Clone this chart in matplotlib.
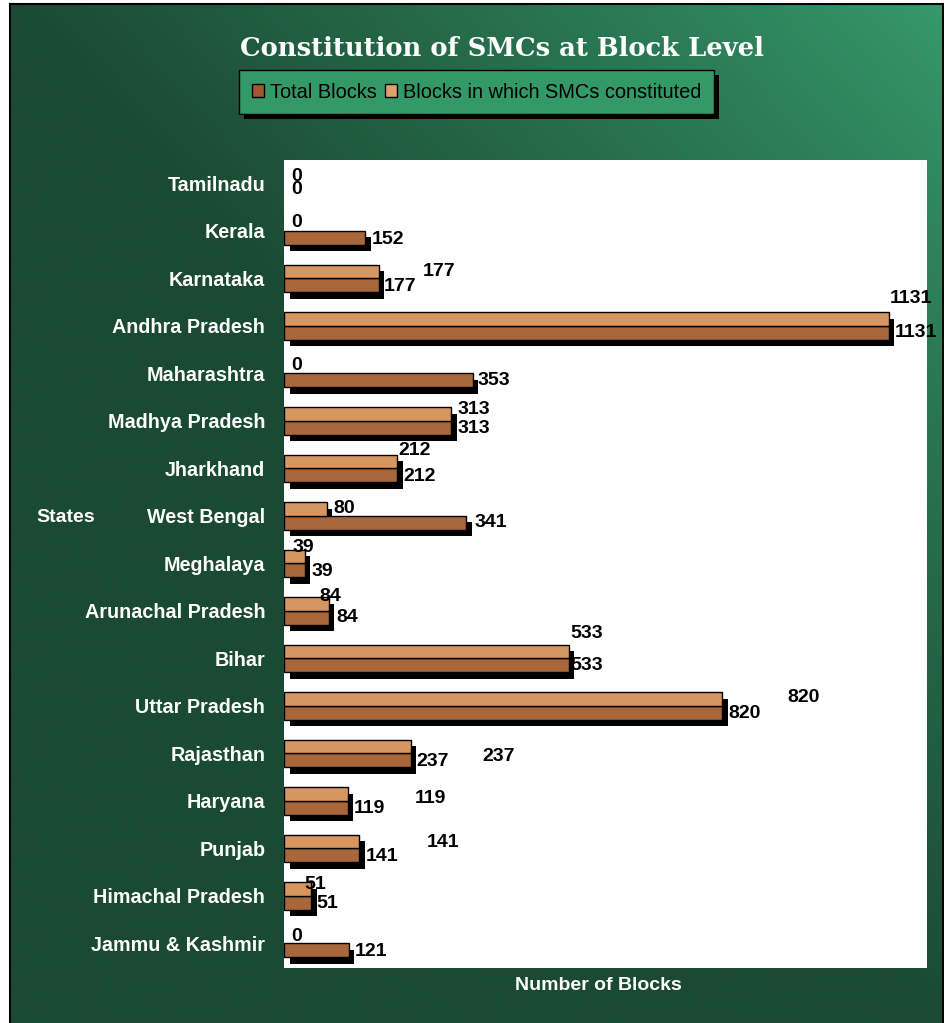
import numpy as np
import matplotlib
matplotlib.use("Agg")
import matplotlib.pyplot as plt
from matplotlib.transforms import ScaledTranslation
from matplotlib.patches import Patch, Rectangle
from matplotlib.colors import to_rgb

# ---------------- data ----------------
states = ["Tamilnadu", "Kerala", "Karnataka", "Andhra Pradesh", "Maharashtra",
          "Madhya Pradesh", "Jharkhand", "West Bengal", "Meghalaya",
          "Arunachal Pradesh", "Bihar", "Uttar Pradesh", "Rajasthan", "Haryana",
          "Punjab", "Himachal Pradesh", "Jammu & Kashmir"]
total_blocks = [0, 152, 177, 1131, 353, 313, 212, 341, 39, 84, 533, 820, 237, 119, 141, 51, 121]
smc_blocks = [0, 0, 177, 1131, 0, 313, 212, 80, 39, 84, 533, 820, 237, 119, 141, 51, 0]
series_names = ["Total Blocks", "Blocks in which SMCs constituted"]

# label placement offsets (pixels, right / down) as seen in the original
smc_label_dx = [7, 7, 44, 1, 7, 6.5, 1, 7, -12, -10, 1, 65, 72, 67, 67, -7, 7]
smc_label_dy = [0, -1.5, 0, -20, -1, -4.5, -11, 0, -9, -7.5, -18, -1.5, 10, 4.5, 1, -4.5, 0]
total_label_dx = [7, 7, 5, 6, 5, 6.5, 6, 8, 7, 7, 1, 6, 6, 6, 6, 5, 6]
total_label_dy = [-1, 1.5, 1, 0, 0, 1, 1, 0, 1, 0, 0, 1, 1, 1, 1, 1, 1]

# ---------------- style ----------------
plt.rcParams["font.family"] = ["Liberation Sans", "DejaVu Sans"]
W, H = 944, 1023
dark = np.array(to_rgb("#1b4a33"))
light = np.array(to_rgb("#36996b"))
smc_color = "#d6965f"
total_color = "#a8673b"

fig = plt.figure(figsize=(W / 100, H / 100), dpi=100, facecolor="white")

# gradient background
bg = fig.add_axes([10 / W, 0, 933 / W, 1019 / H])
xs = np.linspace(0, 1, 400)
ys = np.linspace(0, 1, 400)
X, Y = np.meshgrid(xs, ys)  # Y=0 at top
u = ((1 - X) + Y) / 2
t = np.clip(u / 0.5, 0, 1) ** 0.9
img = light[None, None, :] * (1 - t[..., None]) + dark[None, None, :] * t[..., None]
bg.imshow(img, aspect="auto", extent=[0, 1, 0, 1], origin="upper")
bg.set_xlim(0, 1)
bg.set_ylim(0, 1)
bg.set_xticks([])
bg.set_yticks([])
for s in ["left", "top", "right"]:
    bg.spines[s].set_color("black")
    bg.spines[s].set_linewidth(1.5)
bg.spines["bottom"].set_visible(False)
bg.set_zorder(-5)

# main plot
ax = fig.add_axes([284 / W, 1 - 968 / H, 643 / W, 808 / H])
ax.set_facecolor("white")
for s in ax.spines.values():
    s.set_visible(False)

n = len(states)
y = np.arange(n)
h = 0.29
shadow_tr = ax.transData + ScaledTranslation(0.055, -0.065, fig.dpi_scale_trans)

lw_smc = [1.0 if v > 0 else 0 for v in smc_blocks]
lw_tot = [1.0 if v > 0 else 0 for v in total_blocks]

ax.barh(y + h / 2, total_blocks, h, color="black", linewidth=0, transform=shadow_tr, zorder=1)
ax.barh(y - h / 2, smc_blocks, h, color="black", linewidth=0, transform=shadow_tr, zorder=1)
ax.barh(y + h / 2, total_blocks, h, color=total_color, edgecolor="black", linewidth=lw_tot, zorder=2)
ax.barh(y - h / 2, smc_blocks, h, color=smc_color, edgecolor="black", linewidth=lw_smc, zorder=3)

for i in range(n):
    ax.annotate(str(smc_blocks[i]), xy=(smc_blocks[i], y[i] - h / 2),
                xytext=(smc_label_dx[i], -smc_label_dy[i]), textcoords="offset pixels",
                ha="left", va="center", fontsize=14, fontweight="bold", color="black", zorder=5)
    ax.annotate(str(total_blocks[i]), xy=(total_blocks[i], y[i] + h / 2),
                xytext=(total_label_dx[i], -total_label_dy[i]), textcoords="offset pixels",
                ha="left", va="center", fontsize=14, fontweight="bold", color="black", zorder=5)

ax.set_xlim(0, 1203)
ax.set_ylim(16.52, -0.49)
ax.set_xticks([])
ax.set_yticks(y)
ax.set_yticklabels(states, color="white", fontweight="bold", fontsize=14.2)
ax.tick_params(axis="y", length=0, pad=13.5)

# texts
fig.text(502 / W, 1 - 48 / H, "Constitution of SMCs at Block Level", family="DejaVu Serif",
         fontweight="bold", fontsize=18.6, color="white", ha="center", va="center")
fig.text(66 / W, 1 - 518 / H, "States", fontweight="bold", fontsize=14, color="white",
         ha="center", va="center")
fig.text(598 / W, 1 - 986 / H, "Number of Blocks", fontweight="bold", fontsize=14,
         color="white", ha="center", va="center")

# legend
handles = [Patch(facecolor="#a0582f", edgecolor="black", linewidth=1),
           Patch(facecolor="#e0a06a", edgecolor="black", linewidth=1)]
leg = fig.legend(handles, series_names, loc="center", bbox_to_anchor=(476.5 / W, 1 - 92 / H),
                 ncol=2, frameon=True, fancybox=False, facecolor="#339966", edgecolor="black",
                 fontsize=14.4, handlelength=0.6, handleheight=0.6, handletextpad=0.3,
                 columnspacing=0.4, borderpad=0.62, borderaxespad=0)
leg.get_frame().set_alpha(1)
leg.get_frame().set_linewidth(1)
fig.canvas.draw()
bb = leg.get_window_extent().transformed(fig.transFigure.inverted())
off_x, off_y = 5 / W, 5 / H
fig.patches.append(Rectangle((bb.x0 + off_x, bb.y0 - off_y), bb.width, bb.height,
                             transform=fig.transFigure, facecolor="black", edgecolor="none",
                             zorder=-1, figure=fig))

fig.savefig("out.png", dpi=100, facecolor=fig.get_facecolor())
